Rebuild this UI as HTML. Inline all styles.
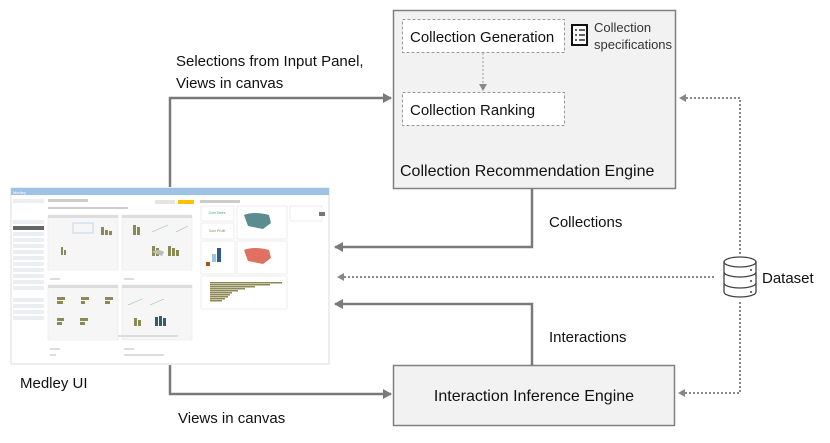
<!DOCTYPE html>
<html><head><meta charset="utf-8"><style>
html,body{margin:0;padding:0;background:#fff;}
svg{display:block;font-family:"Liberation Sans",Calibri,sans-serif;}
</style></head><body>
<svg width="830" height="443" viewBox="0 0 830 443" xmlns="http://www.w3.org/2000/svg">
<defs>
<marker id="ah" markerWidth="10" markerHeight="10" refX="8" refY="5" orient="auto" markerUnits="userSpaceOnUse"><path d="M0,0 L9,5 L0,10 z" fill="#7a7a7a"/></marker>
<marker id="ahs" markerWidth="8" markerHeight="8" refX="6" refY="4" orient="auto" markerUnits="userSpaceOnUse"><path d="M0,0 L7,4 L0,8 z" fill="#888"/></marker>
</defs>

<!-- Medley UI screenshot mock -->
<rect x="11" y="188" width="318" height="176" fill="#fff" stroke="#ddd"/>
<rect x="11" y="188" width="318" height="7" fill="#9cc3e6"/>
<text x="13" y="194" font-size="4" fill="#fff">Medley</text>
<g fill="#eceff2">
<rect x="13" y="199" width="31" height="4"/>
<rect x="13" y="220" width="31" height="4"/><rect x="13" y="232" width="31" height="4"/><rect x="13" y="238" width="31" height="4"/><rect x="13" y="244" width="31" height="4"/><rect x="13" y="250" width="31" height="4"/><rect x="13" y="256" width="31" height="4"/><rect x="13" y="262" width="31" height="4"/><rect x="13" y="268" width="31" height="4"/><rect x="13" y="274" width="31" height="4"/><rect x="13" y="280" width="31" height="4"/><rect x="13" y="286" width="31" height="4"/><rect x="13" y="298" width="31" height="4"/><rect x="13" y="304" width="31" height="4"/><rect x="13" y="310" width="31" height="4"/><rect x="13" y="316" width="31" height="4"/>
</g>
<rect x="13" y="226" width="31" height="4" fill="#666"/>
<rect x="48" y="199" width="40" height="3" fill="#ccc"/>
<rect x="48" y="207" width="80" height="2" fill="#ccc"/>
<rect x="155" y="200" width="20" height="4" fill="#e4e4e4"/>
<rect x="178" y="200" width="16" height="4" fill="#ffc000"/>
<rect x="200" y="200" width="40" height="3" fill="#ccc"/>
<g fill="#f6f6f6" stroke="#e6e6e6" stroke-width="0.5">
<rect x="48" y="215" width="70" height="55"/><rect x="122" y="215" width="70" height="55"/>
<rect x="48" y="285" width="70" height="55"/><rect x="122" y="285" width="70" height="55"/>
</g>
<g fill="#ddd">
<rect x="48" y="215" width="70" height="3"/><rect x="122" y="215" width="70" height="3"/>
<rect x="48" y="285" width="70" height="3"/><rect x="122" y="285" width="70" height="3"/>
<rect x="50" y="278" width="10" height="2"/><rect x="124" y="278" width="10" height="2"/>
<rect x="50" y="348" width="10" height="2"/><rect x="124" y="348" width="10" height="2"/>
<rect x="50" y="354" width="6" height="2"/><rect x="124" y="354" width="40" height="2"/>
</g>
<g fill="#8b8a55">
<rect x="101" y="227" width="3" height="8"/><rect x="105" y="230" width="3" height="5"/><rect x="109" y="231" width="3" height="4"/>
<rect x="133" y="225" width="3" height="10"/><rect x="137" y="227" width="3" height="8"/>
<rect x="61" y="247" width="2" height="8"/><rect x="64" y="250" width="2" height="5"/>
<rect x="152" y="246" width="3" height="10"/><rect x="156" y="248" width="3" height="8"/>
<rect x="168" y="246" width="3" height="10"/><rect x="172" y="248" width="3" height="8"/><rect x="176" y="250" width="3" height="6"/>
<rect x="57" y="297" width="8" height="3"/><rect x="57" y="301" width="6" height="3"/>
<rect x="81" y="297" width="8" height="3"/><rect x="81" y="301" width="4" height="3"/>
<rect x="105" y="297" width="8" height="3"/><rect x="105" y="301" width="5" height="3"/>
<rect x="57" y="318" width="7" height="3"/><rect x="57" y="322" width="5" height="3"/>
<rect x="80" y="318" width="8" height="3"/><rect x="80" y="322" width="5" height="3"/>
<rect x="134" y="318" width="3" height="8"/><rect x="138" y="320" width="3" height="6"/>
</g>
<g fill="#2f5f6a"><rect x="155" y="317" width="3" height="9"/><rect x="159" y="316" width="3" height="10"/><rect x="163" y="318" width="3" height="8"/></g>
<path d="M152 232 l16 -7 M176 232 l12 -6 M128 305 l14 -6 M150 305 l14 -6" stroke="#9bb" stroke-width="0.6" fill="none"/>
<path d="M152 252 q6 -4 12 0 l-2 4 z" fill="#bbb"/>
<rect x="73" y="223" width="20" height="10" fill="none" stroke="#9cc3e6" stroke-width="0.6"/>
<rect x="118" y="335" width="60" height="2" fill="#ddd"/>
<!-- dashboard -->
<g fill="#fff" stroke="#ddd" stroke-width="0.5">
<rect x="201" y="206" width="33" height="15"/><rect x="201" y="223" width="33" height="16"/>
<rect x="237" y="206" width="50" height="33"/><rect x="290" y="206" width="32" height="15"/>
<rect x="201" y="241" width="34" height="33"/><rect x="237" y="241" width="50" height="33"/>
<rect x="201" y="276" width="86" height="33"/>
</g>
<text x="217" y="214" font-size="3.5" fill="#4a8" text-anchor="middle">Sum Sales</text>
<text x="217" y="232" font-size="3.5" fill="#8b8a55" text-anchor="middle">Sum Profit</text>
<path d="M244 215 q10 -4 25 0 l2 8 l-8 6 l-15 -3 z" fill="#5a8c90"/>
<path d="M244 250 q10 -4 25 0 l2 8 l-8 6 l-15 -3 z" fill="#e07060"/>
<rect x="217" y="248" width="4" height="14" fill="#2e5a8a"/><rect x="212" y="254" width="4" height="8" fill="#9cc3e6"/><rect x="206" y="262" width="4" height="4" fill="#b05010"/>
<rect x="319" y="212" width="6" height="4" fill="#777"/>
<g fill="#8b8a55">
<rect x="210" y="282" width="72" height="1.5"/><rect x="210" y="284" width="60" height="1.5"/><rect x="210" y="286" width="45" height="1.5"/><rect x="210" y="288" width="35" height="1.5"/><rect x="210" y="290" width="28" height="1.5"/><rect x="210" y="292" width="22" height="1.5"/><rect x="210" y="294" width="20" height="1.5"/><rect x="210" y="296" width="18" height="1.5"/><rect x="210" y="298" width="15" height="1.5"/><rect x="210" y="300" width="12" height="1.5"/>
</g>

<!-- Collection Recommendation Engine -->
<rect x="393.5" y="10.5" width="282" height="178" fill="#f2f2f2" stroke="#808080" stroke-width="1.5"/>
<rect x="402.5" y="19.5" width="162" height="33" fill="#fff" stroke="#999" stroke-dasharray="3,2"/>
<text x="410" y="42" font-size="15" fill="#111">Collection Generation</text>
<rect x="402.5" y="92.5" width="162" height="33" fill="#fff" stroke="#999" stroke-dasharray="3,2"/>
<text x="410" y="115" font-size="15" fill="#111">Collection Ranking</text>
<line x1="483" y1="53" x2="483" y2="90" stroke="#999" stroke-dasharray="2,2" marker-end="url(#ahs)"/>
<!-- spec icon -->
<rect x="572" y="25" width="15" height="20" fill="#fff" stroke="#111" stroke-width="2"/>
<g stroke="#111" stroke-width="1.3"><line x1="575" y1="30" x2="577" y2="30"/><line x1="579" y1="30" x2="585" y2="30"/><line x1="575" y1="35" x2="577" y2="35"/><line x1="579" y1="35" x2="585" y2="35"/><line x1="575" y1="40" x2="577" y2="40"/><line x1="579" y1="40" x2="585" y2="40"/></g>
<text x="594" y="32" font-size="13" fill="#333">Collection</text>
<text x="594" y="49" font-size="13" fill="#333">specifications</text>
<text x="400" y="176" font-size="16" fill="#111">Collection Recommendation Engine</text>

<!-- Interaction Inference Engine -->
<rect x="393.5" y="365.5" width="281" height="60" fill="#f2f2f2" stroke="#808080" stroke-width="1.5"/>
<text x="534" y="401" font-size="16" fill="#111" text-anchor="middle">Interaction Inference Engine</text>

<!-- connectors -->
<g stroke="#7a7a7a" stroke-width="2.5" fill="none">
<polyline points="170,187 170,98 391,98" marker-end="url(#ah)"/>
<polyline points="532,189 532,247 335,247" marker-end="url(#ah)"/>
<polyline points="532,365 532,304 335,304" marker-end="url(#ah)"/>
<polyline points="170,365 170,394 391,394" marker-end="url(#ah)"/>
</g>
<g stroke="#888" stroke-width="2" fill="none" stroke-dasharray="2,2">
<polyline points="740,254 740,98 680,98" marker-end="url(#ahs)"/>
<polyline points="740,302 740,393 679,393" marker-end="url(#ahs)"/>
<line x1="714" y1="277" x2="338" y2="277" marker-end="url(#ahs)"/>
</g>
<!-- database icon -->
<g fill="#fff" stroke="#444" stroke-width="1.3">
<path d="M724 262 v30 a16 5 0 0 0 32 0 v-30"/>
<ellipse cx="740" cy="262" rx="16" ry="5"/>
<path d="M724 272 a16 5 0 0 0 32 0 M724 283 a16 5 0 0 0 32 0" fill="none"/>
</g>
<g fill="#444"><circle cx="751" cy="270" r="1"/><circle cx="751" cy="281" r="1"/><circle cx="751" cy="292" r="1"/></g>

<!-- labels -->
<g font-size="15" fill="#111">
<text x="176" y="66">Selections from Input Panel,</text>
<text x="176" y="88">Views in canvas</text>
<text x="549" y="227">Collections</text>
<text x="762" y="283">Dataset</text>
<text x="549" y="342">Interactions</text>
<text x="20" y="388">Medley UI</text>
<text x="178" y="423">Views in canvas</text>
</g>
</svg>
</body></html>
